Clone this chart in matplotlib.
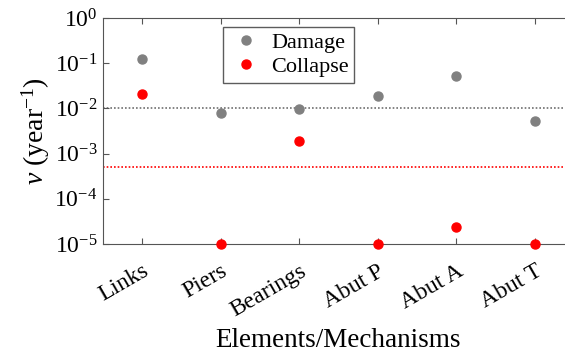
import matplotlib
matplotlib.use("Agg")
import matplotlib.pyplot as plt
import numpy as np
from matplotlib.ticker import LogLocator, NullFormatter

plt.rcParams["font.family"] = "Liberation Serif"
plt.rcParams["mathtext.fontset"] = "custom"
plt.rcParams["mathtext.rm"] = "Liberation Serif"
plt.rcParams["mathtext.it"] = "Liberation Serif:italic"
plt.rcParams["font.size"] = 16

# annual rates per element / mechanism
elements = ["Links", "Piers", "Bearings", "Abut P", "Abut A", "Abut T"]
damage = [0.122, 0.0078, 0.0095, 0.019, 0.052, 0.0052]
collapse = [0.0205, 1e-5, 0.0019, 1e-5, 2.4e-5, 1e-5]
damage_limit = 1e-2
collapse_limit = 5e-4
yticks = [1e-5, 1e-4, 1e-3, 1e-2, 1e-1, 1e0]
ytick_labels = ["10$^{-5}$", "10$^{-4}$", "10$^{-3}$", "10$^{-2}$", "10$^{-1}$", "10$^{0}$"]

x = np.arange(1, len(elements) + 1)

fig = plt.figure(figsize=(5.65, 3.52), dpi=100)
ax = fig.add_axes([103 / 565, 1 - 244 / 352, 471 / 565, 226 / 352])

ax.axhline(damage_limit, color="#707070", ls=(0, (1, 1.2)), lw=1.2, zorder=1)
ax.axhline(collapse_limit, color="#ff0000", ls=(0, (1, 1.2)), lw=1.2, zorder=1)
ax.plot(x, damage, "o", color="#808080", ms=6.5, label="Damage", zorder=3, clip_on=False)
ax.plot(x, collapse, "o", color="#ff0000", ms=6.5, label="Collapse", zorder=3, clip_on=False)

ax.set_yscale("log")
ax.set_ylim(1e-5, 1e0)
ax.set_xlim(0.5, 6.5)
ax.set_yticks(yticks)
ax.set_yticklabels(ytick_labels, fontsize=17)
ax.yaxis.set_minor_locator(LogLocator(base=10, subs=np.arange(2, 10)))
ax.yaxis.set_minor_formatter(NullFormatter())
ax.set_xticks(x)
ax.set_xticklabels(elements, rotation=30, ha="right", rotation_mode="anchor", fontsize=17)
ax.tick_params(axis="x", which="major", direction="in", length=4, top=True, pad=12,
               color="#555555")
ax.tick_params(axis="y", which="major", direction="in", length=4, color="#555555", pad=4)
ax.tick_params(axis="y", which="minor", direction="in", length=2, color="#555555")

for side in ["left", "bottom", "top"]:
    ax.spines[side].set_color("#555555")
ax.spines["right"].set_visible(False)

ax.set_ylabel(r"$\nu$ (year$^{-1}$)", fontsize=20, labelpad=2)
ax.set_xlabel("Elements/Mechanisms", fontsize=19.5, labelpad=5)

leg = ax.legend(loc="upper left", bbox_to_anchor=(0.255, 0.96), borderaxespad=0,
                fontsize=16, frameon=True, fancybox=False, edgecolor="#333333",
                handletextpad=0.3, borderpad=0.25, labelspacing=0.15,
                handlelength=1.6)
leg.get_frame().set_linewidth(1.0)

fig.savefig("out.png", dpi=100)
